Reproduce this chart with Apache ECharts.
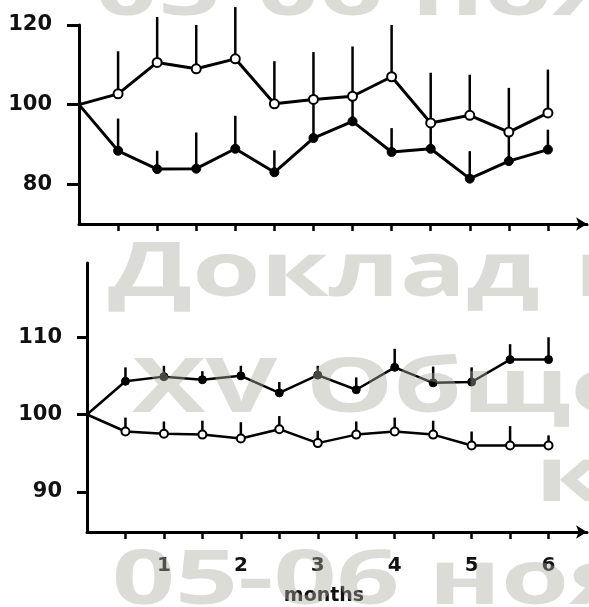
<!DOCTYPE html>
<html>
<head>
<meta charset="utf-8">
<script src="https://cdn.jsdelivr.net/npm/echarts@6/dist/echarts.min.js"></script>
<style>
  html, body { margin: 0; padding: 0; background: #fff; }
  #chart { width: 589px; height: 607px; }
</style>
</head>
<body>
<div id="chart"></div>
<script>
// Time points (months) shared by both panels
const months = [0, 0.5, 1, 1.5, 2, 2.5, 3, 3.5, 4, 4.5, 5, 5.5, 6];
const tickMonths = [0.5, 1, 1.5, 2, 2.5, 3, 3.5, 4, 4.5, 5, 5.5, 6];
const labelMonths = [1, 2, 3, 4, 5, 6];

// Upper panel: % of baseline, mean and upward SEM
const upperOpenMean = [100, 102.7, 110.6, 109.0, 111.5, 100.2, 101.3, 102.1, 107.0, 95.4, 97.3, 93.1, 97.9];
const upperOpenSem  = [0, 10.7, 11.4, 11.0, 13.0, 10.7, 11.9, 12.5, 13.0, 12.6, 10.2, 11.1, 10.9];
const upperFilledMean = [100, 88.4, 83.8, 83.9, 88.9, 83.0, 91.6, 95.8, 88.1, 88.9, 81.4, 85.8, 88.7];
const upperFilledSem  = [0, 8.1, 4.6, 9.1, 8.3, 5.5, 9.8, 6.5, 6.0, 6.6, 6.9, 7.5, 5.0];
const upperTicks = [80, 100, 120];

// Lower panel: % of baseline, mean and upward SEM
const lowerFilledMean = [100, 104.3, 104.9, 104.5, 105.0, 102.8, 105.1, 103.2, 106.1, 104.1, 104.2, 107.1, 107.1];
const lowerFilledSem  = [0, 1.8, 1.4, 1.1, 1.3, 1.4, 1.2, 1.6, 2.4, 2.1, 1.9, 2.0, 2.9];
const lowerOpenMean = [100, 97.8, 97.5, 97.4, 96.9, 98.1, 96.3, 97.4, 97.8, 97.4, 96.0, 96.0, 96.0];
const lowerOpenSem  = [0, 1.8, 1.6, 1.8, 2.1, 1.7, 1.6, 1.7, 1.8, 1.8, 1.8, 2.5, 1.3];
const lowerTicks = [90, 100, 110];

const xName = 'months';

// Watermark words drawn over the figure
const watermarkLines = [
  { text: '05-06 ноября', x: 95, y: -45 },
  { text: 'Доклад', x: 108, y: 236 },
  { text: 'на', x: 574, y: 236 },
  { text: 'XV Общероссийской', x: 132, y: 352 },
  { text: 'конференции', x: 535, y: 441 },
  { text: '05-06 ноября', x: 112, y: 544 }
];

const INK = '#111';
const labelFont = { color: INK, fontFamily: 'DejaVu Sans', fontWeight: 'bold' };

function pairs(xs, ys) {
  return xs.map((x, i) => (i === 0 ? { value: [x, ys[i]], symbolSize: 0 } : [x, ys[i]]));
}
function errData(xs, mean, sem) {
  const out = [];
  xs.forEach((x, i) => { if (sem[i] > 0) out.push([x, mean[i], sem[i]]); });
  return out;
}
function errSeries(idx, mean, sem, width) {
  return {
    type: 'custom',
    xAxisIndex: idx, yAxisIndex: idx,
    z: 1,
    silent: true,
    encode: { x: 0, y: 1 },
    data: errData(months, mean, sem),
    renderItem: function (params, api) {
      const x = api.value(0), m = api.value(1), s = api.value(2);
      const p0 = api.coord([x, m]);
      const p1 = api.coord([x, m + s]);
      return {
        type: 'line',
        shape: { x1: p0[0], y1: p0[1], x2: p1[0], y2: p1[1] },
        style: { stroke: '#000', lineWidth: width }
      };
    }
  };
}
function lineSeries(idx, mean, open, size, width) {
  return {
    type: 'line',
    xAxisIndex: idx, yAxisIndex: idx,
    z: 3,
    silent: true,
    data: pairs(months, mean),
    symbol: 'circle',
    symbolSize: size,
    showAllSymbol: true,
    lineStyle: { color: '#000', width: width },
    itemStyle: open
      ? { color: '#fff', borderColor: '#000', borderWidth: 2 }
      : { color: '#000', borderColor: '#000', borderWidth: 1 },
    emphasis: { disabled: true }
  };
}
function xAxisFor(idx, showLabels) {
  return {
    type: 'value', gridIndex: idx, min: 0, max: 6.5,
    name: showLabels ? xName : '',
    nameLocation: 'middle',
    nameGap: 55,
    nameTextStyle: Object.assign({ fontSize: 19, padding: [0, 26, 0, 0] }, labelFont),
    axisLine: {
      show: true, onZero: false,
      symbol: ['none', 'arrow'], symbolSize: [10, 11],
      lineStyle: { color: '#000', width: 3 }
    },
    axisTick: {
      show: true, customValues: tickMonths, length: 7, inside: false,
      lineStyle: { color: '#000', width: 2.5 }
    },
    axisLabel: Object.assign({
      show: showLabels, customValues: labelMonths, fontSize: 20, margin: 24
    }, labelFont),
    splitLine: { show: false }
  };
}
function yAxisFor(idx, min, max, ticks, tickLen, margin) {
  return {
    type: 'value', gridIndex: idx, min: min, max: max,
    axisLine: { show: true, onZero: false, lineStyle: { color: '#000', width: 3 } },
    axisTick: {
      show: true, customValues: ticks, length: tickLen, inside: false,
      lineStyle: { color: '#000', width: 3 }
    },
    axisLabel: Object.assign({ customValues: ticks, fontSize: 21, margin: margin }, labelFont),
    splitLine: { show: false }
  };
}

const chart = echarts.init(document.getElementById('chart'), null, { renderer: 'canvas' });
chart.setOption({
  backgroundColor: '#fff',
  animation: false,
  tooltip: { show: false },
  grid: [
    { left: 79, right: 2, top: 25, height: 199, containLabel: false },
    { left: 87, right: 2, top: 263, height: 270, containLabel: false }
  ],
  xAxis: [xAxisFor(0, false), xAxisFor(1, true)],
  yAxis: [
    yAxisFor(0, 70, 120, upperTicks, 12, 27),
    yAxisFor(1, 84.8, 119.6, lowerTicks, 10, 25)
  ],
  series: [
    errSeries(0, upperOpenMean, upperOpenSem, 2.5),
    errSeries(0, upperFilledMean, upperFilledSem, 2.5),
    lineSeries(0, upperOpenMean, true, 9, 3),
    lineSeries(0, upperFilledMean, false, 9, 3),
    errSeries(1, lowerFilledMean, lowerFilledSem, 2.5),
    errSeries(1, lowerOpenMean, lowerOpenSem, 2.5),
    lineSeries(1, lowerFilledMean, false, 8, 2.5),
    lineSeries(1, lowerOpenMean, true, 8, 2.5)
  ],
  graphic: {
    elements: watermarkLines.map(w => ({
      type: 'text',
      x: w.x, y: w.y,
      scaleX: 1.45,
      z: 100,
      silent: true,
      style: {
        text: w.text,
        font: 'bold 76px "Open Sans"',
        fill: 'rgba(170,170,162,0.42)',
        align: 'left',
        verticalAlign: 'top'
      }
    }))
  }
});
</script>
</body>
</html>
